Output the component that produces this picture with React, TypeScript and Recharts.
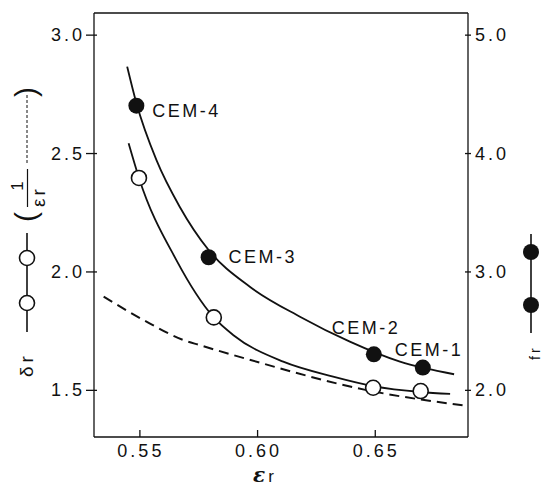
import { ComposedChart, Line, Scatter, XAxis, YAxis, ReferenceLine } from 'recharts';

// measured points (open = δr on the left axis, filled = fr on the right axis)
const openEps = [0.5496, 0.5814, 0.6491, 0.6693];
const openDelta = [2.397, 1.808, 1.511, 1.497];

const filledNames = ['CEM-4', 'CEM-3', 'CEM-2', 'CEM-1'];
const filledEps = [0.5485, 0.5792, 0.6494, 0.6702];
const filledFr = [4.404, 3.124, 2.304, 2.192];

// fitted curves (they don't pass exactly through every dot)
const upperEps = [0.5446, 0.5485, 0.557, 0.5669, 0.5792, 0.5967, 0.618, 0.6392, 0.6605, 0.6835];
const upperFr = [4.734, 4.427, 3.946, 3.551, 3.185, 2.875, 2.622, 2.411, 2.242, 2.136];

const lowerEps = [0.5452, 0.5496, 0.5655, 0.5814, 0.5896, 0.6109, 0.6321, 0.6491, 0.6693, 0.6818];
const lowerDelta = [2.543, 2.397, 2.05, 1.808, 1.734, 1.621, 1.558, 1.518, 1.493, 1.485];

const dashEps = [0.5346, 0.5541, 0.5683, 0.5754, 0.596, 0.6463, 0.6894];
const dashInv = [1.8955, 1.783, 1.713, 1.691, 1.631, 1.501, 1.434];

const xTicks = [0.55, 0.6, 0.65];
const leftTicks = [1.5, 2.0, 2.5, 3.0];
const rightTicks = [2.0, 3.0, 4.0, 5.0];

const zip = (xs: number[], ys: number[]) => xs.map((x, i) => ({ x, y: ys[i] }));

const openData = zip(openEps, openDelta);
const filledData = filledEps.map((x, i) => ({ x, y: filledFr[i], name: filledNames[i] }));
const upperData = zip(upperEps, upperFr);
const lowerData = zip(lowerEps, lowerDelta);
const dashData = zip(dashEps, dashInv);

// where each CEM label sits relative to its dot
const labelOffsets: Record<string, [number, number]> = {
  'CEM-4': [16, 11],
  'CEM-3': [20, 6],
  'CEM-2': [-42, -20],
  'CEM-1': [-28, -12],
};

const FONT = '"Liberation Sans", Arial, sans-serif';
const INK = '#111';

const XTick = ({ x, y, payload }: any) => (
  <g>
    <line x1={x} x2={x} y1={y - 7} y2={y} stroke={INK} strokeWidth={1.3} />
    <text x={x + 1} y={y + 20} textAnchor="middle" fontFamily={FONT} fontSize={18} letterSpacing={3} fill={INK}>
      {Number(payload.value).toFixed(2)}
    </text>
  </g>
);

const LeftTick = ({ x, y, payload }: any) => (
  <g>
    <line x1={x - 8} x2={x + 3} y1={y} y2={y} stroke={INK} strokeWidth={1.3} />
    <text x={x - 9} y={y + 6} textAnchor="end" fontFamily={FONT} fontSize={18} letterSpacing={3} fill={INK}>
      {Number(payload.value).toFixed(1)}
    </text>
  </g>
);

const RightTick = ({ x, y, payload }: any) => (
  <g>
    <line x1={x - 3} x2={x + 3} y1={y} y2={y} stroke={INK} strokeWidth={1.3} />
    <text x={x + 7} y={y + 6} textAnchor="start" fontFamily={FONT} fontSize={18} letterSpacing={3} fill={INK}>
      {Number(payload.value).toFixed(1)}
    </text>
  </g>
);

const FilledDot = ({ cx, cy, payload }: any) => {
  const [dx, dy] = labelOffsets[payload.name] || [14, 6];
  return (
    <g>
      <circle cx={cx} cy={cy} r={8} fill={INK} />
      <text x={cx + dx} y={cy + dy} fontFamily={FONT} fontSize={18} letterSpacing={2.5} fill={INK}>
        {payload.name}
      </text>
    </g>
  );
};

const OpenDot = ({ cx, cy }: any) => <circle cx={cx} cy={cy} r={7.5} fill="#fff" stroke={INK} strokeWidth={1.6} />;

export default function App() {
  return (
    <div style={{ position: 'absolute', left: 0, top: 0, width: 542, height: 486, background: '#fff' }}>
      <ComposedChart width={542} height={486} margin={{ top: 13, right: 0, bottom: 0, left: 0 }}>
        <XAxis
          dataKey="x"
          type="number"
          domain={[0.5305, 0.6894]}
          ticks={xTicks}
          allowDataOverflow
          height={49}
          tickSize={0}
          tickMargin={0}
          tickLine={false}
          axisLine={{ stroke: INK, strokeWidth: 1.3 }}
          tick={<XTick />}
        />
        <YAxis
          yAxisId="left"
          type="number"
          domain={[1.303, 3.0935]}
          ticks={leftTicks}
          allowDataOverflow
          width={94}
          tickSize={0}
          tickMargin={0}
          tickLine={false}
          axisLine={{ stroke: INK, strokeWidth: 1.3 }}
          tick={<LeftTick />}
        />
        <YAxis
          yAxisId="right"
          orientation="right"
          type="number"
          domain={[1.606, 5.187]}
          ticks={rightTicks}
          allowDataOverflow
          width={74}
          tickSize={0}
          tickMargin={0}
          tickLine={false}
          axisLine={{ stroke: INK, strokeWidth: 1.3 }}
          tick={<RightTick />}
        />
        <ReferenceLine yAxisId="left" y={3.0935} stroke={INK} strokeWidth={1.3} />
        <Line yAxisId="left" data={dashData} dataKey="y" type="monotone" stroke={INK} strokeWidth={2} strokeDasharray="10 6" dot={false} isAnimationActive={false} />
        <Line yAxisId="left" data={lowerData} dataKey="y" type="monotone" stroke={INK} strokeWidth={1.8} dot={false} isAnimationActive={false} />
        <Line yAxisId="right" data={upperData} dataKey="y" type="monotone" stroke={INK} strokeWidth={1.8} dot={false} isAnimationActive={false} />
        <Scatter yAxisId="left" data={openData} dataKey="y" shape={<OpenDot />} isAnimationActive={false} />
        <Scatter yAxisId="right" data={filledData} dataKey="y" shape={<FilledDot />} isAnimationActive={false} />
      </ComposedChart>

      <svg width={542} height={486} style={{ position: 'absolute', left: 0, top: 0, pointerEvents: 'none' }}>
        {/* left axis legend: δr —o—o— (1/εr ----) */}
        <g transform="translate(27,377) rotate(-90)" fontFamily={FONT} fill={INK}>
          <text x={0} y={6} fontSize={19} letterSpacing={4}>δr</text>
          <line x1={45} x2={144} y1={0} y2={0} stroke={INK} strokeWidth={1.6} />
          <circle cx={74} cy={0} r={7.5} fill="#fff" stroke={INK} strokeWidth={1.6} />
          <circle cx={119} cy={0} r={7.5} fill="#fff" stroke={INK} strokeWidth={1.6} />
          <text x={155} y={9} fontSize={30} fontWeight={300}>(</text>
          <text x={191} y={-4} fontSize={17} textAnchor="middle">1</text>
          <line x1={170} x2={208} y1={0.5} y2={0.5} stroke={INK} strokeWidth={1.2} />
          <text x={170} y={18} fontSize={19} letterSpacing={3}>εr</text>
          <line x1={214} x2={284} y1={0} y2={0} stroke={INK} strokeWidth={1} strokeDasharray="3 2" />
          <text x={280} y={9} fontSize={30} fontWeight={300}>)</text>
        </g>

        {/* right axis legend: fr —●—●— */}
        <line x1={531} x2={531} y1={234} y2={333} stroke={INK} strokeWidth={1.6} />
        <circle cx={531} cy={252} r={8} fill={INK} />
        <circle cx={531} cy={305} r={8} fill={INK} />
        <g transform="translate(531,360) rotate(-90)" fontFamily={FONT} fill={INK}>
          <text x={0} y={9} fontSize={14} letterSpacing={3}>fr</text>
        </g>

        {/* x axis title */}
        <text x={253} y={482} fill={INK}>
          <tspan fontFamily='"DejaVu Serif", serif' fontStyle="italic" fontWeight="bold" fontSize={20}>ε</tspan>
          <tspan fontFamily={FONT} fontSize={17} dx={3}>r</tspan>
        </text>
      </svg>
    </div>
  );
}
